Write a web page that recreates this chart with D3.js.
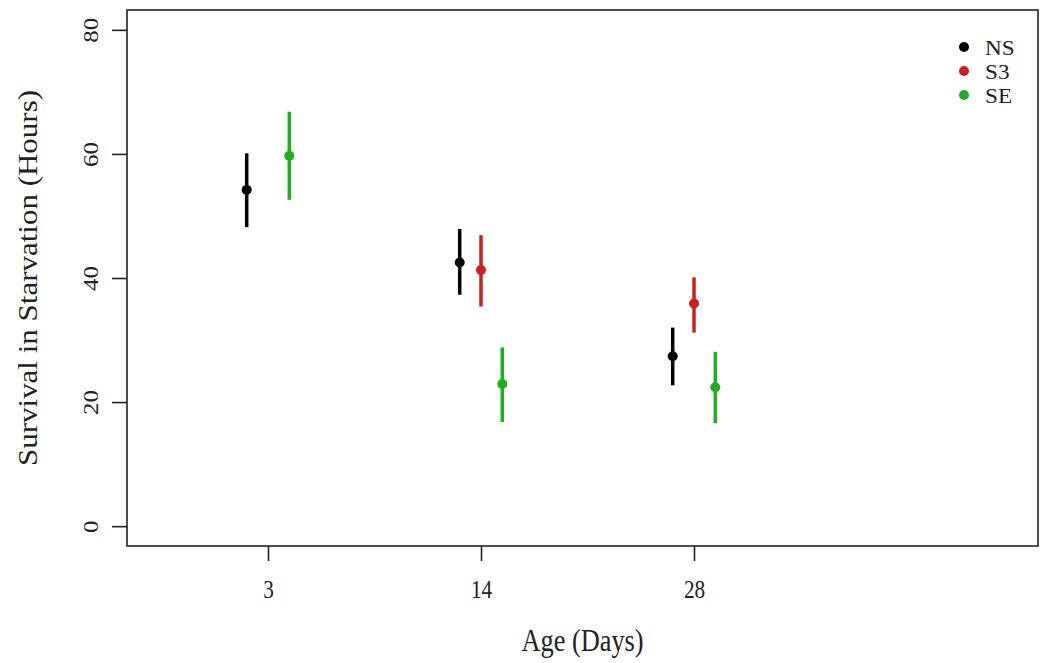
<!DOCTYPE html>
<html>
<head>
<meta charset="utf-8">
<title>Survival in Starvation</title>
<script src="https://cdnjs.cloudflare.com/ajax/libs/d3/7.8.5/d3.min.js"></script>
<style>
  * { margin: 0; padding: 0; }
  body { background: #fff; }
  svg { display: block; }
  text { font-family: "Liberation Serif", "DejaVu Serif", serif; fill: #222; }
</style>
</head>
<body>
<div id="chart"></div>
<script>
// data
const ages = ["3", "14", "28"];
const groups = ["NS", "S3", "SE"];
const groupColors = ["#000000", "#cc1f1f", "#1fb01f"];
const nsMean = [54.2, 42.5, 27.4];
const nsLow  = [48.2, 37.3, 22.7];
const nsHigh = [60.1, 47.9, 32.0];
const s3Mean = [null, 41.3, 35.9];
const s3Low  = [null, 35.4, 31.2];
const s3High = [null, 46.9, 40.1];
const seMean = [59.7, 22.9, 22.4];
const seLow  = [52.6, 16.8, 16.6];
const seHigh = [66.8, 28.8, 28.1];
const yTicks = [0, 20, 40, 60, 80];
const groupOffset = [-0.1, 0, 0.1];

const width = 1044, height = 663;
const plotLeft = 127, plotRight = 1038, plotTop = 10, plotBottom = 546;
const sx = 0.85; // picture is a bit squeezed sideways

const svg = d3.select("#chart").append("svg")
    .attr("width", width)
    .attr("height", height);

// x is category position 1..3, y is hours
const x = d3.scaleLinear().domain([0.338, 4.615]).range([plotLeft, plotRight]);
const y = d3.scaleLinear().domain([-3.2, 83.2]).range([plotBottom, plotTop]);

// build rows for plotting
const series = [
    { mean: nsMean, low: nsLow, high: nsHigh },
    { mean: s3Mean, low: s3Low, high: s3High },
    { mean: seMean, low: seLow, high: seHigh }
];
const rows = [];
series.forEach(function(s, g) {
    ages.forEach(function(a, i) {
        if (s.mean[i] == null) return;
        rows.push({ g: g, pos: i + 1 + groupOffset[g], mean: s.mean[i], low: s.low[i], high: s.high[i] });
    });
});

// error bars
svg.selectAll("line.err").data(rows).enter().append("line")
    .attr("class", "err")
    .attr("x1", d => x(d.pos)).attr("x2", d => x(d.pos))
    .attr("y1", d => y(d.low)).attr("y2", d => y(d.high))
    .attr("stroke", d => groupColors[d.g])
    .attr("stroke-width", 3.5);

// means
svg.selectAll("circle.pt").data(rows).enter().append("circle")
    .attr("class", "pt")
    .attr("cx", d => x(d.pos)).attr("cy", d => y(d.mean))
    .attr("r", 5)
    .attr("fill", d => groupColors[d.g]);

// frame
svg.append("rect")
    .attr("x", plotLeft).attr("y", plotTop)
    .attr("width", plotRight - plotLeft).attr("height", plotBottom - plotTop)
    .attr("fill", "none").attr("stroke", "#222").attr("stroke-width", 1.6);

// y axis
const yAxis = svg.append("g").attr("id", "y-axis").attr("transform", "translate(" + plotLeft + ",0)")
    .call(d3.axisLeft(y).tickValues(yTicks).tickSize(15).tickPadding(0).tickFormat(d3.format("d")));
yAxis.select(".domain").remove();
yAxis.selectAll(".tick line").attr("stroke", "#222").attr("stroke-width", 1.6);
yAxis.selectAll(".tick text")
    .attr("x", null).attr("dy", null)
    .attr("text-anchor", "middle")
    .attr("transform", "translate(-29,0) scale(" + sx + ",1) rotate(-90)")
    .style("font-size", "25px").style("fill", "#222");

// x axis
const xAxis = svg.append("g").attr("id", "x-axis").attr("transform", "translate(0," + plotBottom + ")")
    .call(d3.axisBottom(x).tickValues([1, 2, 3]).tickSize(15).tickPadding(0).tickFormat((d, i) => ages[i]));
xAxis.select(".domain").remove();
xAxis.selectAll(".tick line").attr("stroke", "#222").attr("stroke-width", 1.6);
xAxis.selectAll(".tick text")
    .attr("y", null).attr("dy", null)
    .attr("transform", "translate(0,52) scale(" + sx + ",1)")
    .style("font-size", "25px").style("fill", "#222");

// axis titles
svg.append("text")
    .attr("transform", "translate(" + (plotLeft + plotRight) / 2 + ",651) scale(" + sx + ",1)")
    .attr("text-anchor", "middle")
    .style("font-size", "31px")
    .text("Age (Days)");

svg.append("text")
    .attr("transform", "translate(37," + (plotTop + plotBottom) / 2 + ") scale(" + sx + ",1) rotate(-90)")
    .attr("text-anchor", "middle")
    .style("font-size", "31px")
    .text("Survival in Starvation (Hours)");

// legend
const legend = svg.append("g").attr("class", "legend");
const legendY = d3.scalePoint().domain(groups).range([47, 95]);
groups.forEach(function(g, i) {
    legend.append("circle")
        .attr("cx", 964).attr("cy", legendY(g)).attr("r", 5)
        .attr("fill", groupColors[i]);
    legend.append("text")
        .attr("transform", "translate(985," + (legendY(g) + 7.5) + ") scale(1.08,1)")
        .style("font-size", "21.5px")
        .text(g);
});
</script>
</body>
</html>
